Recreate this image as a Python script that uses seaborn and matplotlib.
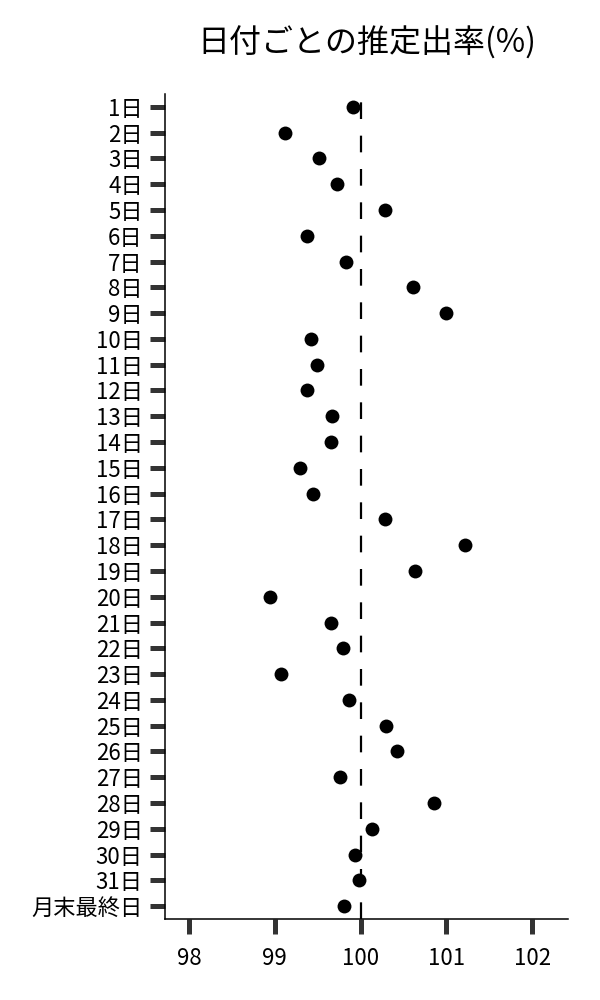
import matplotlib
matplotlib.use("Agg")
import matplotlib.pyplot as plt
import seaborn as sns
import pandas as pd

categories = [f"{i}日" for i in range(1, 32)] + ["月末最終日"]
rates = [99.91, 99.12, 99.52, 99.73, 100.28, 99.38, 99.83, 100.61, 100.99, 99.42,
         99.49, 99.38, 99.67, 99.66, 99.29, 99.45, 100.28, 101.22, 100.63, 98.94,
         99.66, 99.79, 99.07, 99.87, 100.30, 100.42, 99.76, 100.86, 100.13, 99.94,
         99.98, 99.81]
x_ticks = [98, 99, 100, 101, 102]
reference_value = 100
title = "日付ごとの推定出率(%)"

sns.set_style("ticks")
plt.rcParams["font.family"] = ["Noto Sans CJK JP", "DejaVu Sans"]

df = pd.DataFrame({"day": categories, "rate": rates})

fig = plt.figure(figsize=(6, 10), dpi=100)
ax = fig.add_axes([0.275, 0.081, 0.672, 0.825])

sns.stripplot(data=df, x="rate", y="day", order=categories, jitter=False,
              color="black", size=10, ax=ax, zorder=3)
ax.axvline(reference_value, color="black", lw=1.6, linestyle=(0, (7.5, 7.5)), zorder=2)

ax.set_xlim(97.72, 102.42)
ax.set_ylim(len(categories) - 0.5, -0.5)
ax.set_xticks(x_ticks)
ax.set_xticklabels([str(t) for t in x_ticks])
ax.set_xlabel("")
ax.set_ylabel("")
sns.despine(ax=ax)
for s in ["left", "bottom"]:
    ax.spines[s].set_color("black")
    ax.spines[s].set_linewidth(1.1)
ax.tick_params(axis="both", length=11, width=3.6, color="#333333",
               labelsize=16, labelcolor="black")
ax.tick_params(axis="y", pad=5)
ax.tick_params(axis="x", pad=9)
ax.set_title(title, fontsize=23, pad=30, color="black")

fig.savefig("out.png", dpi=100)
